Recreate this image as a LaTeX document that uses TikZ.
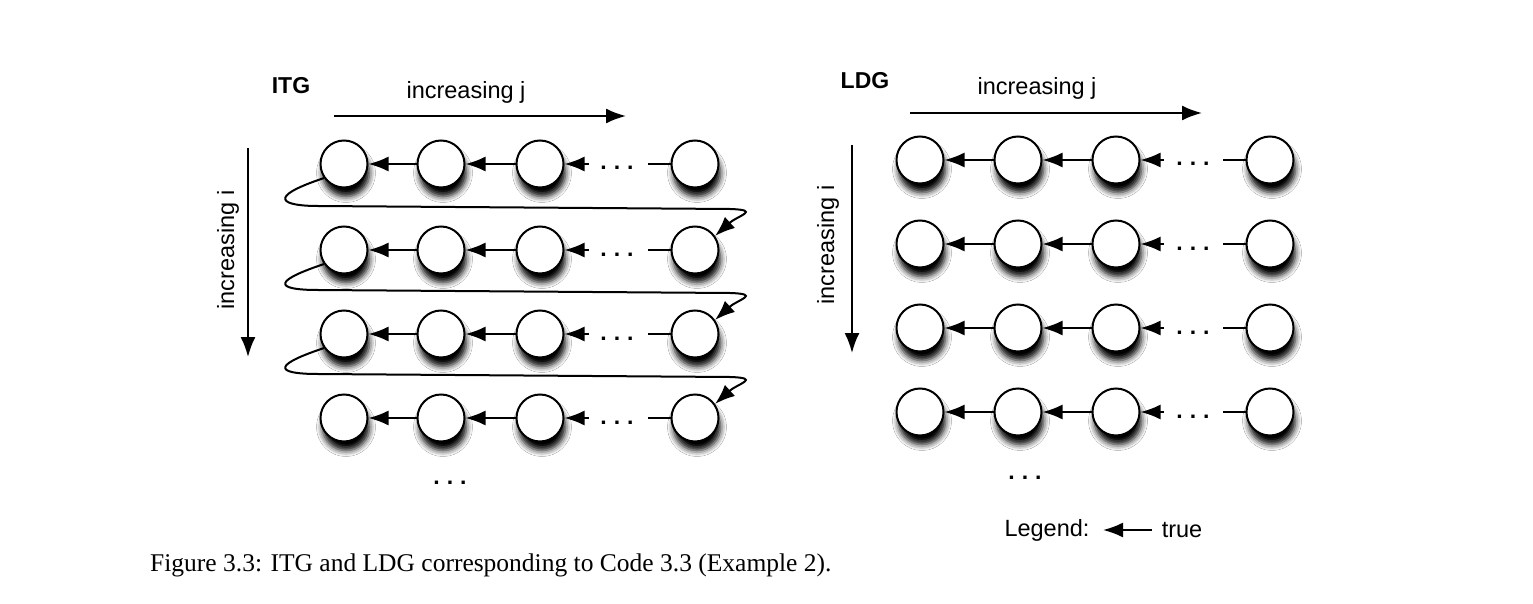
\documentclass[tikz,border=0pt]{standalone}
\usepackage{fontspec}
\setmainfont{Liberation Serif}
\setsansfont{Liberation Sans}
\usetikzlibrary{arrows.meta,shadows.blur}
\begin{document}
\begin{tikzpicture}[x=1pt,y=-1pt,
  lbl/.style={font=\sffamily\fontsize{23.5}{26}\selectfont},
  bld/.style={font=\sffamily\bfseries\fontsize{23}{26}\selectfont},
  cell/.style={circle, draw, line width=2pt, fill=white, minimum size=47pt, inner sep=0pt,
     blur shadow={shadow xshift=2pt, shadow yshift=-9pt, shadow blur radius=6pt, shadow opacity=100}},
  arr/.style={line width=2pt, -{Latex[length=20pt 0,width=15pt 0]}},
  ln/.style={line width=2pt},
  dts/.style={font=\sffamily\bfseries\fontsize{23}{24}\selectfont, anchor=base, inner sep=0pt}
]
\useasboundingbox (0,0) rectangle (1533,604);
\fill[white] (0,0) rectangle (1533,604);
% ---------- ITG ----------
\node[bld] (itg) at (291,86) {ITG};
\node[lbl] (ij) at (466,92) {increasing j};
\coordinate (ija) at (334,116); \coordinate (ijb) at (626,116);
\draw[arr] (ija) -- (ijb);
\node[lbl, rotate=90] (ii) at (228,250) {increasing i};
\coordinate (iia) at (248,148); \coordinate (iib) at (248,357);
\draw[arr] (iia) -- (iib);
\foreach \r/\y in {1/164,2/250,3/334,4/418}{
  \node[cell] (a\r1) at (344,\y) {};
  \node[cell] (a\r2) at (441,\y) {};
  \node[cell] (a\r3) at (540,\y) {};
  \node[cell] (a\r4) at (695,\y) {};
  \node[dts] (ad\r) at (617,\y+6) {.\hspace{7pt}.\hspace{7pt}.};
  \coordinate (as\r) at (589,\y);
  \coordinate (al\r) at (648,\y);
  \draw[arr] (a\r2) -- (a\r1);
  \draw[arr] (a\r3) -- (a\r2);
  \draw[arr] (as\r) -- (a\r3);
  \draw[ln] (al\r) -- (a\r4);
}
\node[dts] (adb) at (450,484) {.\hspace{7pt}.\hspace{7pt}.};
\draw[arr] (a11.215) .. controls +(-60,20) and +(-35,0) .. (318,206) -- (730,209) .. controls +(32,1) and +(22,-20) .. (a24.35);
\draw[arr] (a21.215) .. controls +(-60,20) and +(-35,0) .. (318,290) -- (730,293) .. controls +(32,1) and +(22,-20) .. (a34.35);
\draw[arr] (a31.215) .. controls +(-60,20) and +(-35,0) .. (318,374) -- (730,377) .. controls +(32,1) and +(22,-20) .. (a44.35);
% ---------- LDG ----------
\node[bld] (ldg) at (865,81) {LDG};
\node[lbl] (lj) at (1037,88) {increasing j};
\coordinate (lja) at (910,113); \coordinate (ljb) at (1202,113);
\draw[arr] (lja) -- (ljb);
\node[lbl, rotate=90] (li) at (828,245) {increasing i};
\coordinate (lia) at (852,145); \coordinate (lib) at (852,353);
\draw[arr] (lia) -- (lib);
\foreach \r/\y in {1/160,2/244,3/328,4/412}{
  \node[cell] (b\r1) at (920,\y) {};
  \node[cell] (b\r2) at (1018,\y) {};
  \node[cell] (b\r3) at (1116,\y) {};
  \node[cell] (b\r4) at (1270,\y) {};
  \node[dts] (bd\r) at (1193,\y+6) {.\hspace{7pt}.\hspace{7pt}.};
  \coordinate (bs\r) at (1164,\y);
  \coordinate (bl\r) at (1223,\y);
  \draw[arr] (b\r2) -- (b\r1);
  \draw[arr] (b\r3) -- (b\r2);
  \draw[arr] (bs\r) -- (b\r3);
  \draw[ln] (bl\r) -- (b\r4);
}
\node[dts] (bdb) at (1025,479) {.\hspace{7pt}.\hspace{7pt}.};
% legend
\node[lbl] (leg) at (1047,530) {Legend:};
\coordinate (lga) at (1152,530); \coordinate (lgb) at (1103,530);
\draw[arr] (lga) -- (lgb);
\node[lbl] (tru) at (1182,530) {true};
% caption
\node[font=\fontsize{25.5}{28}\selectfont, anchor=west, inner sep=0pt] (cap) at (150,565) {Figure 3.3: ITG and LDG corresponding to Code 3.3 (Example 2).};
\end{tikzpicture}
\end{document}
